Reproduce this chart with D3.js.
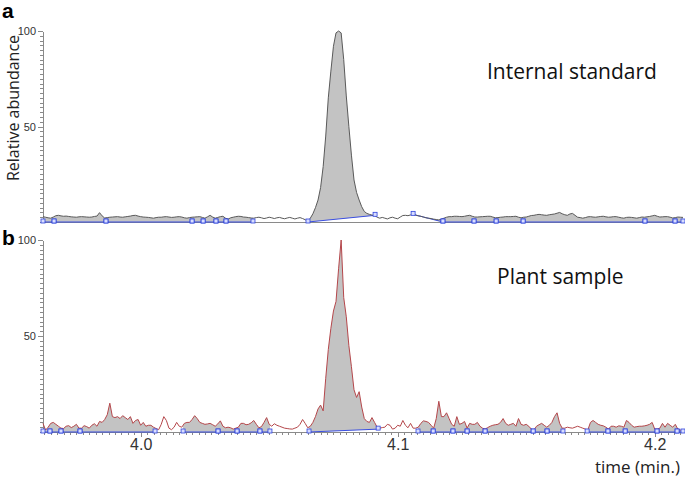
<!DOCTYPE html>
<html>
<head>
<meta charset="utf-8">
<script src="https://cdn.jsdelivr.net/npm/d3@7"></script>
<style>
  body { margin: 0; background: #fff; }
  svg { display: block; font-family: "Open Sans", "Liberation Sans", sans-serif; }
  .axis path, .axis line { stroke: #8a8a8a; shape-rendering: crispEdges; }
  .axis text { fill: #333; }
</style>
</head>
<body>
<div id="vis-container"></div>
<script>
// scans are evenly spaced: one every 0.001 min starting at 3.962 min
const scanStart = 3.962;
const scanStep = 0.001;

// panel a, internal standard (relative abundance, %)
const intensityA = [
  2.8, 2.5, 2.2, 2.0, 2.6, 3.3, 3.5, 3.2, 3.0, 3.1,
  2.9, 2.7, 2.6, 2.5, 2.7, 2.8, 2.7, 2.6, 2.5, 2.6,
  2.9, 3.1, 4.9, 3.2, 2.1, 2.3, 2.5, 2.6, 2.7, 2.8,
  2.6, 2.5, 2.7, 2.9, 3.1, 3.4, 3.5, 3.1, 2.8, 2.6,
  2.5, 2.4, 2.2, 2.0, 2.3, 2.5, 2.5, 2.7, 2.8, 2.6,
  2.4, 2.5, 2.7, 2.8, 2.6, 2.2, 2.0, 2.3, 2.5, 2.6,
  2.7, 2.8, 2.4, 2.0, 2.7, 3.5, 2.6, 2.0, 2.4, 2.8,
  3.0, 2.0, 1.5, 2.2, 2.5, 2.8, 3.0, 2.9, 2.6, 2.5,
  2.3, 2.1, 2.0, 2.3, 2.5, 2.2, 1.8, 2.1, 2.5, 2.2,
  1.8, 2.2, 2.4, 2.0, 1.7, 2.1, 2.4, 2.0, 1.6, 2.0,
  2.3, 1.8, 1.2, 0.3, 2.0, 4.3, 7.5, 11.5, 18, 29,
  45, 65, 79, 92, 99, 100, 99, 85, 66, 50,
  35, 22, 15.5, 11.5, 8.0, 5.5, 4.5, 4.0, 3.6, 3.5,
  2.5, 2.0, 2.4, 2.0, 1.6, 2.2, 2.5, 2.0, 1.7, 2.6,
  3.4, 3.5, 3.3, 3.7, 4.0, 3.6, 3.2, 3.0, 2.6, 2.2,
  2.0, 1.8, 1.5, 1.3, 1.1, 1.5, 2.0, 2.5, 2.8, 2.8,
  3.0, 3.0, 2.9, 2.8, 3.0, 3.3, 3.5, 3.0, 2.6, 2.6,
  2.7, 2.8, 2.9, 3.0, 3.0, 2.6, 2.2, 2.3, 2.5, 2.6,
  2.8, 2.8, 2.8, 2.9, 3.0, 2.5, 2.2, 2.5, 2.6, 3.0,
  3.4, 3.5, 3.8, 4.0, 3.8, 3.6, 3.5, 3.8, 4.0, 4.2,
  4.6, 5.0, 4.3, 3.8, 3.5, 4.2, 4.5, 3.5, 2.5, 2.3,
  2.0, 2.3, 2.7, 2.8, 2.6, 2.5, 2.7, 2.9, 3.0, 2.7,
  2.5, 2.6, 2.8, 2.8, 2.5, 2.2, 2.0, 2.4, 2.5, 2.4,
  2.2, 2.0, 2.3, 2.6, 2.5, 2.7, 2.9, 3.2, 3.5, 3.0,
  2.6, 2.7, 2.8, 2.8, 2.5, 2.1, 2.3, 2.6, 2.5, 2.4
];

// panel b, plant sample (relative abundance, %)
const intensityB = [
  4.5, 1.0, 2.5, 4.5, 5.0, 4.0, 3.0, 2.0, 1.8, 3.0,
  3.3, 2.3, 3.0, 4.0, 2.0, 2.0, 3.3, 2.8, 2.0, 3.5,
  4.3, 3.0, 5.5, 5.0, 6.5, 9.0, 15, 8.0, 7.5, 8.0,
  7.0, 8.5, 7.5, 6.5, 8.0, 4.5, 6.0, 6.5, 3.5, 5.0,
  3.0, 3.5, 3.5, 2.5, 1.8, 1.2, 4.0, 8.0, 6.0, 2.0,
  1.2, 2.5, 5.0, 3.0, 2.5, 4.5, 5.0, 5.0, 6.5, 8.5,
  7.0, 5.0, 4.5, 4.0, 4.2, 4.5, 3.8, 3.0, 4.2, 5.8,
  3.0, 2.2, 2.5, 2.2, 1.5, 2.0, 2.5, 4.5, 4.5, 3.8,
  4.0, 4.8, 6.0, 4.0, 2.2, 2.8, 5.0, 7.5, 4.0, 3.0,
  4.3, 3.5, 3.0, 2.5, 2.0, 1.8, 1.6, 1.5, 2.0, 2.5,
  4.0, 6.5, 4.5, 2.2, 3.0, 5.0, 8.0, 12, 14, 11,
  28, 43, 54, 63, 68, 85, 100, 70, 60, 45,
  34, 22, 18, 21, 13, 7.0, 5.5, 5.0, 7.5, 5.0,
  2.5, 2.0, 2.3, 2.5, 4.0, 3.5, 1.5, 2.0, 3.5, 3.0,
  6.0, 3.5, 2.2, 4.5, 2.0, 2.0, 2.5, 4.5, 5.8, 5.5,
  5.0, 3.5, 2.0, 7.0, 16, 8.0, 8.0, 10, 7.0, 4.0,
  3.0, 8.0, 4.0, 4.5, 5.5, 2.0, 4.5, 4.0, 4.0, 5.0,
  3.0, 2.0, 1.5, 2.3, 3.0, 3.5, 3.8, 4.0, 5.0, 7.0,
  4.5, 3.5, 4.0, 4.5, 3.0, 7.0, 4.0, 3.5, 4.0, 3.0,
  1.5, 1.0, 3.0, 3.8, 4.5, 3.5, 2.5, 3.5, 5.0, 8.0,
  10, 4.5, 2.0, 2.0, 2.5, 2.2, 2.0, 2.5, 3.0, 2.5,
  2.0, 1.5, 1.2, 5.0, 6.0, 5.0, 4.0, 3.5, 3.2, 2.5,
  1.5, 3.0, 3.0, 2.5, 3.2, 3.0, 2.5, 6.0, 5.0, 3.5,
  2.5, 2.8, 3.0, 3.0, 3.2, 3.5, 4.0, 5.0, 1.5, 1.5,
  2.0, 4.5, 2.5, 4.5, 3.5, 2.5, 4.0, 1.5, 1.0, 1.0
];

// integrated regions: [start time, baseline at start, end time, baseline at end]
const integrationA = [
  [3.9620, 0, 3.9663, 0], [3.9663, 0, 3.9865, 0], [3.9865, 0, 4.0200, 0],
  [4.0200, 0, 4.0243, 0], [4.0243, 0, 4.0293, 0], [4.0293, 0, 4.0332, 0],
  [4.0332, 0, 4.0437, 0], [4.0651, 0, 4.0912, 3.5], [4.1060, 4, 4.1176, 0],
  [4.1176, 0, 4.1297, 0], [4.1297, 0, 4.1383, 0], [4.1383, 0, 4.1488, 0],
  [4.1488, 0, 4.1962, 0], [4.1962, 0, 4.2079, 0], [4.2079, 0, 4.2110, 0]
];
const integrationB = [
  [3.9620, 0, 3.9647, 0], [3.9647, 0, 3.9690, 0], [3.9690, 0, 3.9764, 0],
  [3.9764, 0, 4.0056, 0], [4.0165, 0, 4.0301, 0], [4.0301, 0, 4.0375, 0],
  [4.0375, 0, 4.0464, 0], [4.0464, 0, 4.0503, 0], [4.0655, 0, 4.0924, 1.5],
  [4.1079, 0, 4.1138, 0], [4.1138, 0, 4.1215, 0], [4.1215, 0, 4.1270, 0],
  [4.1270, 0, 4.1340, 0], [4.1340, 0, 4.1527, 0], [4.1527, 0, 4.1581, 0],
  [4.1581, 0, 4.1643, 0], [4.1737, 0, 4.1818, 0], [4.1818, 0, 4.1885, 0],
  [4.1885, 0, 4.2009, 0], [4.2009, 0, 4.2087, 0], [4.2087, 0, 4.2110, 0]
];

const panelLabels = ["a", "b"];
const panelTitles = ["Internal standard", "Plant sample"];
const yLabelTicks = [50, 100];
const xLabelTicks = [4.0, 4.1, 4.2];
const timeDomain = [3.962, 4.211];

const W = 685, H = 477;

const svg = d3.select("#vis-container")
    .append("svg")
    .attr("width", W)
    .attr("height", H);

const x = d3.scaleLinear().domain(timeDomain).range([43, 683]);

const panels = [
    { values: intensityA, segs: integrationA, stroke: "#5a5a5a", range: [222, 31], titleX: 487, titleY: 79, labelY: 18 },
    { values: intensityB, segs: integrationB, stroke: "#b5474b", range: [432, 240], titleX: 497, titleY: 284, labelY: 245 }
];

panels.forEach((p, pi) => {
    const y = d3.scaleLinear().domain([0, 100]).range(p.range);
    const pts = p.values.map((v, i) => ({ t: scanStart + i * scanStep, v: v }));
    const g = svg.append("g");

    // grey fill between the trace and each integration baseline
    p.segs.forEach((s, si) => {
        const id = `clip-${pi}-${si}`;
        svg.append("clipPath").attr("id", id)
            .append("rect")
            .attr("x", x(s[0]))
            .attr("y", p.range[1] - 5)
            .attr("width", x(s[2]) - x(s[0]))
            .attr("height", p.range[0] - p.range[1] + 5);
        const base = t => s[1] + (s[3] - s[1]) * (t - s[0]) / (s[2] - s[0]);
        g.append("path")
            .datum(pts)
            .attr("clip-path", `url(#${id})`)
            .attr("fill", "#c3c3c3")
            .attr("d", d3.area()
                .x(d => x(d.t))
                .y0(d => y(base(d.t)))
                .y1(d => y(d.v)));
    });

    // axes
    g.append("g")
        .attr("class", "axis")
        .attr("transform", "translate(43,0)")
        .call(d3.axisLeft(y).tickValues(d3.range(0, 100.1, 2.5)).tickSize(3).tickSizeOuter(0).tickFormat(""));
    g.append("g")
        .attr("class", "axis")
        .attr("transform", "translate(43,0)")
        .call(d3.axisLeft(y).tickValues(yLabelTicks).tickSize(5).tickSizeOuter(0).tickPadding(2))
        .call(a => a.select(".domain").remove())
        .selectAll("text").style("font-size", "11px");

    if (pi === 0) {
        g.append("g")
            .attr("class", "axis")
            .attr("transform", `translate(0,${p.range[0]})`)
            .call(d3.axisBottom(x).tickValues([]).tickSizeOuter(0));
    } else {
        g.append("g")
            .attr("class", "axis")
            .attr("transform", `translate(0,${p.range[0]})`)
            .call(d3.axisBottom(x).tickValues(d3.range(3.9625, 4.211, 0.0025)).tickSize(3).tickSizeOuter(0).tickFormat(""));
        g.append("g")
            .attr("class", "axis")
            .attr("transform", `translate(0,${p.range[0]})`)
            .call(d3.axisBottom(x).tickValues(xLabelTicks).tickSize(5).tickSizeOuter(0).tickPadding(2).tickFormat(d3.format(".1f")))
            .call(a => a.select(".domain").remove())
            .selectAll("text").style("font-size", "16px").attr("fill", "#222");
    }

    // integration baselines (blue) with square markers
    g.selectAll("line.base")
        .data(p.segs)
        .enter().append("line")
        .attr("x1", s => x(s[0])).attr("y1", s => y(s[1]))
        .attr("x2", s => x(s[2])).attr("y2", s => y(s[3]))
        .attr("stroke", "#3a4ee0")
        .attr("stroke-width", 1);

    // chromatogram trace
    g.append("path")
        .datum(pts)
        .attr("fill", "none")
        .attr("stroke", p.stroke)
        .attr("stroke-width", 1)
        .attr("d", d3.line().x(d => x(d.t)).y(d => y(d.v)));

    const ends = [];
    p.segs.forEach(s => { ends.push([s[0], s[1]]); ends.push([s[2], s[3]]); });
    g.selectAll("rect.mark")
        .data(ends)
        .enter().append("rect")
        .attr("x", d => x(d[0]) - 2)
        .attr("y", d => y(d[1]) - 3)
        .attr("width", 4)
        .attr("height", 4)
        .attr("fill", "#d8ddff")
        .attr("stroke", "#2f44dc")
        .attr("stroke-width", 0.8);

    svg.append("text")
        .attr("x", p.titleX)
        .attr("y", p.titleY)
        .style("font-size", "21px")
        .attr("fill", "#111")
        .text(panelTitles[pi]);

    svg.append("text")
        .attr("x", 2)
        .attr("y", p.labelY)
        .style("font-family", "'Liberation Sans', Arial, sans-serif")
        .style("font-size", "21px")
        .style("font-weight", "bold")
        .text(panelLabels[pi]);
});

svg.append("text")
    .attr("transform", "translate(19,108) rotate(-90)")
    .attr("text-anchor", "middle")
    .style("font-size", "16px")
    .attr("fill", "#222")
    .text("Relative abundance");

svg.append("text")
    .attr("x", 680)
    .attr("y", 473)
    .attr("text-anchor", "end")
    .style("font-size", "17px")
    .attr("fill", "#222")
    .text("time (min.)");
</script>
</body>
</html>
